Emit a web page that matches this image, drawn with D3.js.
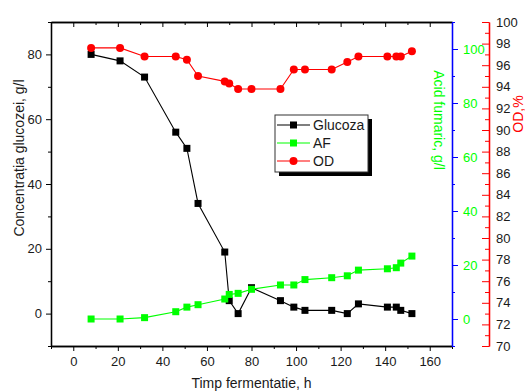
<!DOCTYPE html>
<html>
<head>
<meta charset="utf-8">
<script src="https://cdn.jsdelivr.net/npm/d3@7"></script>
<style>
  html, body { margin: 0; padding: 0; background: #fff; }
  svg { display: block; font-family: "Liberation Sans", Arial, sans-serif; }
</style>
</head>
<body>
<svg id="chart" width="525" height="392"></svg>
<script>
// Fermentation time (h)
const hours = [8, 21, 32, 46, 51, 56, 68, 70, 74, 80, 93, 99, 104, 116, 123, 128, 141, 145, 147, 152];
// Glucose concentration (g/l)
const glucose = [80, 78, 73, 56, 51, 34, 19, 4, 0, 8, 4, 2, 1, 1, 0, 3, 2, 2, 1, 0];
// Fumaric acid (g/l)
const fumaric = [0, 0, 0.5, 2.7, 4.4, 5.3, 7.4, 9.1, 9.5, 11, 12.6, 12.6, 14.6, 15.3, 16, 18.1, 18.6, 19, 20.7, 23.3];
// Dissolved oxygen (%)
const od = [97.6, 97.6, 96.8, 96.8, 96.5, 95.0, 94.5, 94.3, 93.8, 93.8, 93.8, 95.6, 95.6, 95.6, 96.3, 96.8, 96.8, 96.8, 96.8, 97.3];

const xTicks = [0, 20, 40, 60, 80, 100, 120, 140, 160];
const glucoseTicks = [0, 20, 40, 60, 80];
const fumaricTicks = [0, 20, 40, 60, 80, 100];
const odTicks = [70, 72, 74, 76, 78, 80, 82, 84, 86, 88, 90, 92, 94, 96, 98, 100];
const legendNames = ["Glucoza", "AF", "OD"];

const svg = d3.select("#chart");
const plotL = 51, plotR = 452, plotT = 22, plotB = 346;
const redAxisX = 489;
const textColor = "#1a1a1a";
const green = "#00ff00";

const x = d3.scaleLinear().domain([-10, 170]).range([plotL, plotR]);
const yG = d3.scaleLinear().domain([-10, 90]).range([plotB, plotT]);
const yA = d3.scaleLinear().domain([-10, 110]).range([plotB, plotT]);
const yO = d3.scaleLinear().domain([70, 100]).range([plotB, plotT]);

function styleAxis(g, color, labelColor) {
  g.select(".domain").attr("stroke", color).attr("stroke-width", 1.3);
  g.selectAll(".tick line").attr("stroke", color).attr("stroke-width", 1);
  g.selectAll(".tick text").attr("fill", labelColor).attr("font-size", 13);
}

// Bottom axis: major ticks labelled, minor ticks between
const xMinor = d3.range(-10, 171, 10).filter(v => v % 20 !== 0);
svg.append("g").attr("transform", `translate(0,${plotB})`)
  .call(d3.axisBottom(x).tickValues(xMinor).tickSize(3).tickFormat("").tickSizeOuter(0))
  .call(g => styleAxis(g, "#000", textColor));
svg.append("g").attr("transform", `translate(0,${plotB})`)
  .call(d3.axisBottom(x).tickValues(xTicks).tickSize(5).tickPadding(6).tickSizeOuter(0))
  .call(g => styleAxis(g, "#000", textColor));

// Top axis: inward ticks, no labels
svg.append("g").attr("transform", `translate(0,${plotT})`)
  .call(d3.axisBottom(x).tickValues(xMinor).tickSize(3).tickFormat("").tickSizeOuter(0))
  .call(g => styleAxis(g, "#000", textColor));
svg.append("g").attr("transform", `translate(0,${plotT})`)
  .call(d3.axisBottom(x).tickValues(xTicks).tickSize(5).tickFormat("").tickSizeOuter(0))
  .call(g => styleAxis(g, "#000", textColor));

// Left axis: glucose
const gMinor = d3.range(-10, 91, 10).filter(v => v % 20 !== 0);
svg.append("g").attr("transform", `translate(${plotL},0)`)
  .call(d3.axisLeft(yG).tickValues(gMinor).tickSize(3).tickFormat("").tickSizeOuter(0))
  .call(g => styleAxis(g, "#000", textColor));
svg.append("g").attr("transform", `translate(${plotL},0)`)
  .call(d3.axisLeft(yG).tickValues(glucoseTicks).tickSize(5).tickPadding(4).tickSizeOuter(0))
  .call(g => styleAxis(g, "#000", textColor));

// Right inner axis: fumaric acid (blue line, outward ticks, green labels)
const aMinor = d3.range(-10, 111, 10).filter(v => v % 20 !== 0);
svg.append("g").attr("transform", `translate(${plotR},0)`)
  .call(d3.axisRight(yA).tickValues(aMinor).tickSize(3).tickFormat("").tickSizeOuter(0))
  .call(g => styleAxis(g, "#0000ff", green));
svg.append("g").attr("transform", `translate(${plotR},0)`)
  .call(d3.axisRight(yA).tickValues(fumaricTicks).tickSize(6).tickPadding(5).tickSizeOuter(0))
  .call(g => styleAxis(g, "#0000ff", green));

// Right outer axis: OD (red line, inward ticks, dark labels)
const oMinor = d3.range(71, 100, 2);
svg.append("g").attr("transform", `translate(${redAxisX},0)`)
  .call(d3.axisLeft(yO).tickValues(oMinor).tickSize(4).tickFormat("").tickSizeOuter(0))
  .call(g => styleAxis(g, "#ff0000", textColor));
const oAxis = svg.append("g").attr("transform", `translate(${redAxisX},0)`)
  .call(d3.axisLeft(yO).tickValues(odTicks).tickSize(7).tickSizeOuter(0))
  .call(g => styleAxis(g, "#ff0000", textColor));
oAxis.selectAll(".tick text").attr("x", 7).attr("text-anchor", "start");

// Axis titles
svg.append("text").attr("x", x(80)).attr("y", 388).attr("text-anchor", "middle")
  .attr("font-size", 14).attr("fill", textColor).text("Timp fermentatie, h");
svg.append("text").attr("transform", "translate(24,158) rotate(-90)").attr("text-anchor", "middle")
  .attr("font-size", 14).attr("fill", textColor).text("Concentrația glucozei, g/l");
svg.append("text").attr("transform", "translate(434,120) rotate(90)").attr("text-anchor", "middle")
  .attr("font-size", 14).attr("fill", green).text("Acid fumaric, g/l");
svg.append("text").attr("transform", "translate(523,114) rotate(-90)").attr("text-anchor", "middle")
  .attr("font-size", 14).attr("fill", "#ff0000").text("OD,%");

// Series
const series = [
  { name: legendNames[0], values: glucose, y: yG, color: "#000000", shape: "square" },
  { name: legendNames[1], values: fumaric, y: yA, color: green, shape: "square" },
  { name: legendNames[2], values: od, y: yO, color: "#ff0000", shape: "circle" }
];

const sq = 7;
series.forEach(s => {
  const pts = hours.map((h, i) => [h, s.values[i]]);
  const line = d3.line().x(d => x(d[0])).y(d => s.y(d[1]));
  svg.append("path").datum(pts).attr("d", line)
    .attr("fill", "none").attr("stroke", s.color).attr("stroke-width", 1.1);
  if (s.shape === "square") {
    svg.append("g").selectAll("rect").data(pts).join("rect")
      .attr("x", d => x(d[0]) - sq / 2).attr("y", d => s.y(d[1]) - sq / 2)
      .attr("width", sq).attr("height", sq).attr("fill", s.color);
  } else {
    svg.append("g").selectAll("circle").data(pts).join("circle")
      .attr("cx", d => x(d[0])).attr("cy", d => s.y(d[1])).attr("r", 4)
      .attr("fill", s.color);
  }
});

// Legend with drop shadow
const lg = svg.append("g").attr("transform", "translate(275,115)");
const lw = 93, lh = 57;
lg.append("rect").attr("x", 4).attr("y", 4).attr("width", lw).attr("height", lh).attr("fill", "#000");
lg.append("rect").attr("x", 0).attr("y", 0).attr("width", lw).attr("height", lh)
  .attr("fill", "#fff").attr("stroke", "#333").attr("stroke-width", 1);
series.forEach((s, i) => {
  const yy = 10 + i * 18;
  lg.append("line").attr("x1", 2).attr("x2", 35).attr("y1", yy).attr("y2", yy)
    .attr("stroke", s.color).attr("stroke-width", 1.1);
  if (s.shape === "square") {
    lg.append("rect").attr("x", 18.5 - sq / 2).attr("y", yy - sq / 2).attr("width", sq).attr("height", sq).attr("fill", s.color);
  } else {
    lg.append("circle").attr("cx", 18.5).attr("cy", yy).attr("r", 4).attr("fill", s.color);
  }
  lg.append("text").attr("x", 38).attr("y", yy + 5).attr("font-size", 14)
    .attr("fill", textColor).text(s.name);
});
</script>
</body>
</html>
